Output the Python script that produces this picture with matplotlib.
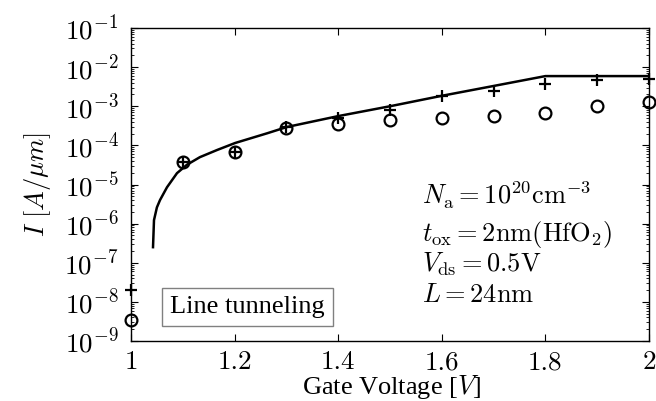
import numpy as np
import matplotlib
matplotlib.use("Agg")
import matplotlib.pyplot as plt
from matplotlib.ticker import LogLocator, FixedLocator, NullFormatter

plt.rcParams['font.family'] = 'serif'
plt.rcParams['font.serif'] = ['cmr10']
plt.rcParams['mathtext.fontset'] = 'cm'
plt.rcParams['axes.formatter.use_mathtext'] = True

# data
gate_v = [1.0, 1.1, 1.2, 1.3, 1.4, 1.5, 1.6, 1.7, 1.8, 1.9, 2.0]
plus_vals = [2.0e-8, 3.7e-5, 6.8e-5, 3.0e-4, 5.0e-4, 8.0e-4, 1.8e-3, 2.5e-3, 3.8e-3, 4.7e-3, 5.0e-3]
circle_vals = [3.5e-9, 3.7e-5, 6.6e-5, 2.7e-4, 3.5e-4, 4.5e-4, 5.0e-4, 5.8e-4, 6.9e-4, 1.0e-3, 1.3e-3]
curve_v = [1.0425, 1.0444, 1.050, 1.056, 1.0695, 1.0888, 1.108, 1.133, 1.166, 1.201, 1.263, 1.301, 1.4, 1.5, 1.6, 1.7, 1.8, 2.0]
curve_i = [2.5e-7, 1.23e-6, 2.6e-6, 4.0e-6, 8.5e-6, 1.95e-5, 3.2e-5, 5.0e-5, 7.6e-5, 1.15e-4, 2.04e-4, 2.95e-4, 5.6e-4, 1.0e-3, 1.85e-3, 3.3e-3, 5.9e-3, 5.9e-3]
x_ticks = [1, 1.2, 1.4, 1.6, 1.8, 2]
x_ticklabels = ['1', '1.2', '1.4', '1.6', '1.8', '2']

W, H = 656, 401
fig = plt.figure(figsize=(W / 100, H / 100), dpi=100)
ax = fig.add_axes([131 / W, 1 - 341 / H, (649 - 131) / W, (341 - 28) / H])

ax.plot(curve_v, curve_i, color='black', lw=1.8)
ax.plot(gate_v, plus_vals, linestyle='none', marker='+', color='black', ms=9, mew=1.6, clip_on=False)
ax.plot(gate_v, circle_vals, linestyle='none', marker='o', mfc='none', mec='black', ms=8.5, mew=1.6, clip_on=False)

ax.set_yscale('log')
ax.set_xlim(1, 2)
ax.set_ylim(1e-9, 1e-1)
ax.xaxis.set_major_locator(FixedLocator(x_ticks))
ax.set_xticklabels(x_ticklabels)
ax.yaxis.set_major_locator(LogLocator(base=10, numticks=20))
ax.yaxis.set_minor_locator(LogLocator(base=10, subs=np.arange(2, 10), numticks=20))
ax.yaxis.set_minor_formatter(NullFormatter())
ax.tick_params(which='both', direction='in', top=True, right=True, labelsize=19.5)
ax.tick_params(which='major', length=5, width=0.8)
ax.tick_params(axis='y', which='major', pad=9)
ax.tick_params(axis='x', which='major', pad=7)
ax.tick_params(which='minor', length=2.5, width=0.6)
for s in ax.spines.values():
    s.set_linewidth(1.0)

ax.set_ylabel(r'$I\ [A/\mu m]$', fontsize=19, labelpad=8)

def fig_xy(px, py):
    return px / W, 1 - py / H

fx, fy = fig_xy(392, 394)
fig.text(fx, fy, 'Gate Voltage [$V$]', fontsize=19, family='Liberation Serif',
         va='baseline', ha='center')

fx, fy = fig_xy(170, 313)
fig.text(fx, fy, 'Line tunneling', fontsize=19, family='Liberation Serif',
         va='baseline', ha='left',
         bbox=dict(boxstyle='square,pad=0.3', fc='white', ec='gray', lw=1))

lines = [r'$N_{\rm a}=10^{20}{\rm cm}^{-3}$',
         r'$t_{\rm ox}=2{\rm nm(HfO_2)}$',
         r'$V_{\rm ds}=0.5{\rm V}$',
         r'$L=24{\rm nm}$']
baselines = [205, 241, 272, 302]
for txt, by in zip(lines, baselines):
    fx, fy = fig_xy(422, by)
    fig.text(fx, fy, txt, fontsize=19, va='baseline', ha='left')

fig.savefig('out.png', dpi=100)
